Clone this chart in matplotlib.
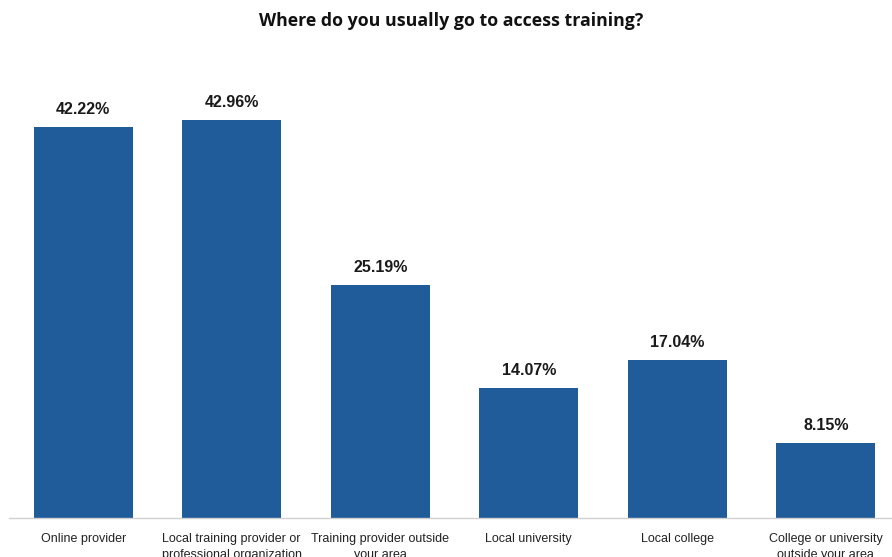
import matplotlib
matplotlib.use("Agg")
import matplotlib.pyplot as plt

categories = [
    "Online provider",
    "Local training provider or\nprofessional organization",
    "Training provider outside\nyour area",
    "Local university",
    "Local college",
    "College or university\noutside your area",
]
shares = [42.22, 42.96, 25.19, 14.07, 17.04, 8.15]
value_labels = ["42.22%", "42.96%", "25.19%", "14.07%", "17.04%", "8.15%"]

bar_color = "#1F5C99"

fig = plt.figure(figsize=(8.92, 5.57), dpi=100)
ax = fig.add_axes([9 / 892, 39 / 557, 891 / 892, 463 / 557])

x = list(range(len(categories)))
ax.bar(x, shares, width=0.667, color=bar_color)
ax.set_xlim(-0.5, len(categories) - 0.5)
ax.set_ylim(0, 50)

for xi, v, lab in zip(x, shares, value_labels):
    ax.annotate(lab, (xi, v), xytext=(0, 7), textcoords="offset points",
                ha="center", va="bottom", fontsize=11.5, fontweight="bold",
                family=["Liberation Sans", "DejaVu Sans"], color="#1a1a1a")

ax.set_xticks(x)
ax.set_xticklabels(categories, family=["Liberation Sans Narrow", "Liberation Sans", "DejaVu Sans"],
                   fontsize=9, color="#222222", linespacing=1.45)
ax.tick_params(axis="x", length=0, pad=10.5)
ax.set_yticks([])
for side in ("top", "right", "left"):
    ax.spines[side].set_visible(False)
ax.spines["bottom"].set_color("#d0d0d0")
ax.spines["bottom"].set_linewidth(1)

fig.text(0.506, 0.962, "Where do you usually go to access training?", ha="center", va="center",
         fontsize=12.8, fontweight="bold", family=["Open Sans", "DejaVu Sans"], color="#111111")

fig.savefig("out.png", dpi=100)
